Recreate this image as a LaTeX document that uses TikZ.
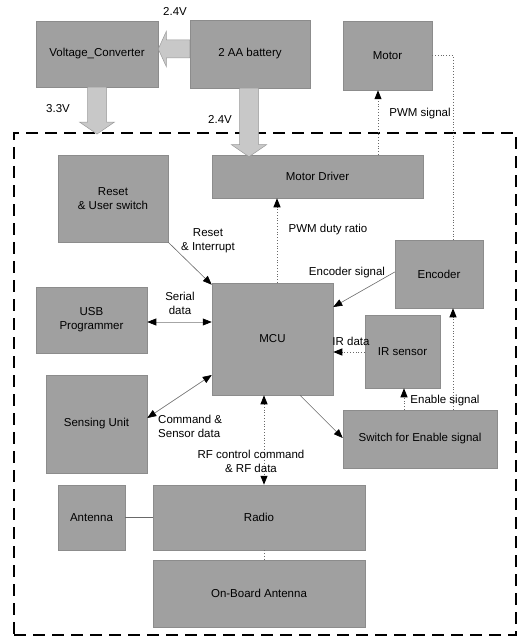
\documentclass[tikz,border=0pt]{standalone}
\usepackage{fontspec}
\setmainfont{Liberation Sans}
\usetikzlibrary{arrows.meta,calc}
\definecolor{boxgray}{RGB}{160,160,160}
\definecolor{powergray}{RGB}{200,200,200}
\definecolor{linegray}{RGB}{105,105,105}

\begin{document}
\begin{tikzpicture}[x=1pt,y=-1pt,
  font=\fontsize{11.5}{14}\selectfont,
  block/.style={draw=black!45,line width=0.5pt,fill=boxgray,inner sep=0pt,align=center},
  lbl/.style={inner sep=0pt,align=center},
  tip/.style={-{Triangle[length=9pt,width=7pt,black]}},
  twotip/.style={{Triangle[length=9pt,width=7pt,black]}-{Triangle[length=9pt,width=7pt,black]}},
  sig/.style={draw=linegray,line width=0.6pt},
  dotsig/.style={draw=linegray,line width=0.8pt,dotted},
  power/.style={draw=black!40,line width=0.5pt,fill=powergray},
  board/.style={draw=black,line width=1.9pt,dash pattern=on 12pt off 7pt,inner sep=0pt},
  % wide supply arrow pointing down
  fatdown/.style={to path={
    let \p1=(\tikztostart), \p2=(\tikztotarget) in
    (\x1-9.5pt,\y1) -- (\x1-9.5pt,\y2+12pt) -- (\x1-17.5pt,\y2+12pt) -- (\x1,\y2)
    -- (\x1+17.5pt,\y2+12pt) -- (\x1+9.5pt,\y2+12pt) -- (\x1+9.5pt,\y1) -- cycle}},
  % wide supply arrow pointing left
  fatleft/.style={to path={
    let \p1=(\tikztostart), \p2=(\tikztotarget) in
    (\x1,\y1+9pt) -- (\x2+8pt,\y1+9pt) -- (\x2+8pt,\y1+17.5pt) -- (\x2,\y1)
    -- (\x2+8pt,\y1-17.5pt) -- (\x2+8pt,\y1-9pt) -- (\x1,\y1-9pt) -- cycle}}
]
\useasboundingbox (0,0) rectangle (520,639);

% board outline
\node[board,minimum width=502pt,minimum height=502pt] (brd) at (265,384) {};

% blocks outside the board
\node[block,minimum width=122pt,minimum height=66pt] (conv)  at (97,54)    {Voltage\_Converter};
\node[block,minimum width=120pt,minimum height=68pt] (bat)   at (250,54)   {2 AA battery};
\node[block,minimum width=89pt, minimum height=69pt] (motor) at (387.5,55.5) {Motor};

% blocks on the board
\node[block,minimum width=211pt,minimum height=43pt] (drv)   at (317.5,176.5) {Motor Driver};
\node[block,minimum width=110pt,minimum height=87pt] (reset) at (113,198.5) {Reset\\\& User switch};
\node[block,minimum width=88pt, minimum height=68pt] (enc)   at (439,274)   {Encoder};
\node[block,minimum width=121pt,minimum height=112pt] (mcu)  at (272.5,339) {MCU};
\node[block,minimum width=111pt,minimum height=66pt] (usb)   at (91.5,320)  {USB\\Programmer};
\node[block,minimum width=75pt, minimum height=73pt] (ir)    at (402.5,351.5) {IR sensor};
\node[block,minimum width=154pt,minimum height=58pt] (sw)    at (420,439)   {Switch for Enable signal};
\node[block,minimum width=101pt,minimum height=98pt] (sens)  at (96.5,424)  {Sensing Unit};
\node[block,minimum width=67pt, minimum height=65pt] (ant)   at (91.5,517.5) {Antenna};
\node[block,minimum width=212pt,minimum height=65pt] (radio) at (259,517.5) {Radio};
\node[block,minimum width=212pt,minimum height=67pt] (onb)   at (259,593.5) {On-Board Antenna};

% guide positions for straight connectors
\coordinate (xa) at (378,0);
\coordinate (xe) at (453,0);
\coordinate (xd) at (277,0);
\coordinate (xr) at (264,0);
\coordinate (xi) at (404,0);
\coordinate (yi) at (0,352);
\coordinate (ys) at (0,322);

% supply arrows
\draw[power] ([yshift=5pt]bat.west) to[fatleft] ([yshift=5pt]conv.east);
\draw[power] (conv.south) to[fatdown] ([yshift=-2pt]conv.south |- brd.north);
\draw[power] ([xshift=-1pt]bat.south) to[fatdown] ([xshift=-1pt,yshift=-2pt]bat.south |- drv.north);

% dotted signal lines
\draw[dotsig,tip] (drv.north -| xa) -- (motor.south -| xa);
\draw[dotsig] (motor.east) -| (enc.north -| xe);
\draw[dotsig,tip] (sw.north -| xe) -- (enc.south -| xe);
\draw[dotsig,tip] (sw.north -| xi) -- (ir.south -| xi);
\draw[dotsig,tip] (ir.west |- yi) -- (mcu.east |- yi);
\draw[dotsig,tip] (mcu.north -| xd) -- (drv.south -| xd);
\draw[dotsig,twotip] (mcu.south -| xr) -- (radio.north -| xr);
\draw[dotsig] (radio.south -| xr) -- (onb.north -| xr);

% solid signal lines
\draw[sig] (ant.east) -- (radio.west);
\draw[sig,tip] ([yshift=2pt]enc.west) -- ([yshift=32pt]mcu.east);
\draw[sig,tip] (reset.south east) -- ([yshift=-2pt]mcu.north west);
\draw[sig,twotip,draw=black!35] (usb.east |- ys) -- (mcu.west |- ys);
\draw[sig,twotip] ([yshift=6pt]sens.east) -- ([yshift=-36pt]mcu.west);
\draw[sig,tip] ([xshift=27.5pt]mcu.south) -- ([yshift=1pt]sw.west);

% labels
\node[lbl] (l24a)  at (175,11)  {2.4V};
\node[lbl] (l33)   at (58,109)  {3.3V};
\node[lbl] (l24b)  at (220,119) {2.4V};
\node[lbl] (lpwm)  at (420,114) {PWM signal};
\node[lbl] (lduty) at (328,230) {PWM duty ratio};
\node[lbl] (lrst)  at (208,241) {Reset\\\& Interrupt};
\node[lbl] (lenc)  at (347,273) {Encoder signal};
\node[lbl] (lser)  at (180,303) {Serial\\data};
\node[lbl] (lir)   at (351,341) {IR data};
\node[lbl] (len)   at (445,401) {Enable signal};
\node[lbl,anchor=west,align=left] (lcmd) at (158,426.5) {Command \&\\Sensor data};
\node[lbl] (lrf)   at (251,461) {RF control command\\\& RF data};
\end{tikzpicture}
\end{document}
